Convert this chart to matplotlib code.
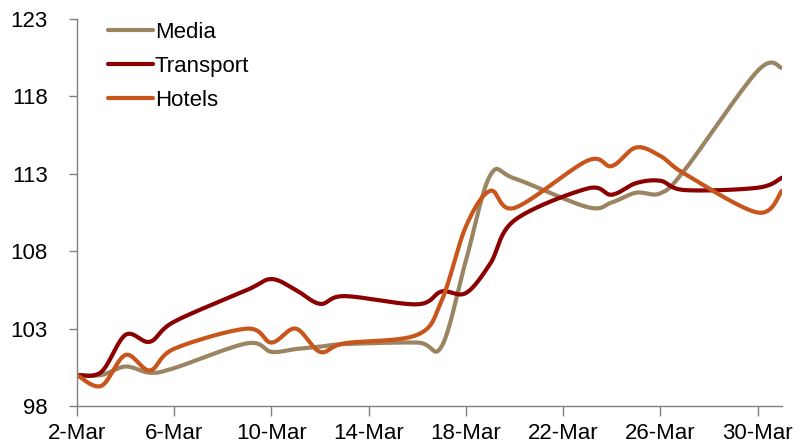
import numpy as np
import pandas as pd
import matplotlib
matplotlib.use("Agg")
import matplotlib.pyplot as plt

# 交易日（2020年3月）
dates = ["2020-03-02", "2020-03-03", "2020-03-04", "2020-03-05", "2020-03-06",
         "2020-03-09", "2020-03-10", "2020-03-11", "2020-03-12", "2020-03-13",
         "2020-03-16", "2020-03-17", "2020-03-18", "2020-03-19", "2020-03-20",
         "2020-03-23", "2020-03-24", "2020-03-25", "2020-03-26", "2020-03-27",
         "2020-03-30", "2020-03-31"]

media = [100.0, 100.0, 100.55, 100.15, 100.45,
         102.05, 101.5, 101.68, 101.83, 102.0,
         102.1, 101.85, 107.4, 112.9, 112.7,
         110.85, 111.15, 111.78, 111.74, 113.25,
         119.65, 119.85]

transport = [100.0, 100.2, 102.6, 102.15, 103.45,
             105.5, 106.2, 105.5, 104.6, 105.1,
             104.57, 105.4, 105.3, 107.2, 110.0,
             112.05, 111.65, 112.4, 112.55, 111.95,
             112.1, 112.75]

hotels = [100.0, 99.3, 101.3, 100.3, 101.7,
          103.0, 102.1, 103.0, 101.5, 102.05,
          102.6, 104.8, 109.6, 111.9, 110.8,
          113.85, 113.5, 114.7, 114.15, 113.0,
          110.5, 111.9]

colors = {"Media": "#9A8462", "Transport": "#8B0000", "Hotels": "#C8561C"}

day = pd.to_datetime(dates).day.to_numpy().astype(float)


def smooth(x, y, n=30):
    """Excel 风格的平滑折线（Catmull-Rom 转 Bezier）"""
    x = np.asarray(x, float)
    y = np.asarray(y, float)
    px = np.concatenate([[x[0]], x, [x[-1]]])
    py = np.concatenate([[y[0]], y, [y[-1]]])
    t = np.linspace(0, 1, n)
    xs, ys = [], []
    for i in range(1, len(px) - 2):
        p0 = np.array([px[i], py[i]])
        p3 = np.array([px[i + 1], py[i + 1]])
        c1 = p0 + (np.array([px[i + 1], py[i + 1]]) - np.array([px[i - 1], py[i - 1]])) / 6
        c2 = p3 - (np.array([px[i + 2], py[i + 2]]) - np.array([px[i], py[i]])) / 6
        b = ((1 - t) ** 3)[:, None] * p0 + (3 * (1 - t) ** 2 * t)[:, None] * c1 \
            + (3 * (1 - t) * t ** 2)[:, None] * c2 + (t ** 3)[:, None] * p3
        xs.append(b[:, 0])
        ys.append(b[:, 1])
    return np.concatenate(xs), np.concatenate(ys)


plt.rcParams['font.family'] = ['Liberation Sans', 'DejaVu Sans']

fig = plt.figure(figsize=(8.01, 4.45), dpi=100)
ax = fig.add_axes([0.0961, 0.0876, 0.8801, 0.8697])

for name, vals in [("Media", media), ("Transport", transport), ("Hotels", hotels)]:
    sx, sy = smooth(day, vals)
    ax.plot(sx, sy, color=colors[name], lw=3, label=name, solid_capstyle='round')

ax.set_xlim(2, 31)
ax.set_ylim(98, 123)
ax.set_yticks(np.arange(98, 124, 5))
xt = np.arange(2, 31, 4)
ax.set_xticks(xt)
ax.set_xticklabels([f"{d}-Mar" for d in xt])

for s in ["top", "right"]:
    ax.spines[s].set_visible(False)
for s in ["left", "bottom"]:
    ax.spines[s].set_color("#808080")
    ax.spines[s].set_linewidth(1)
ax.tick_params(axis='both', direction='out', width=1, color="#808080",
               labelsize=16, labelcolor='black')
ax.tick_params(axis='x', length=7, pad=5)
ax.tick_params(axis='y', length=6, pad=15)

ax.legend(loc='upper left', bbox_to_anchor=(0.016, 1.045), frameon=False, fontsize=16,
          handlelength=2.0, handletextpad=0.1, labelspacing=0.6)

fig.savefig("out.png", dpi=100)
